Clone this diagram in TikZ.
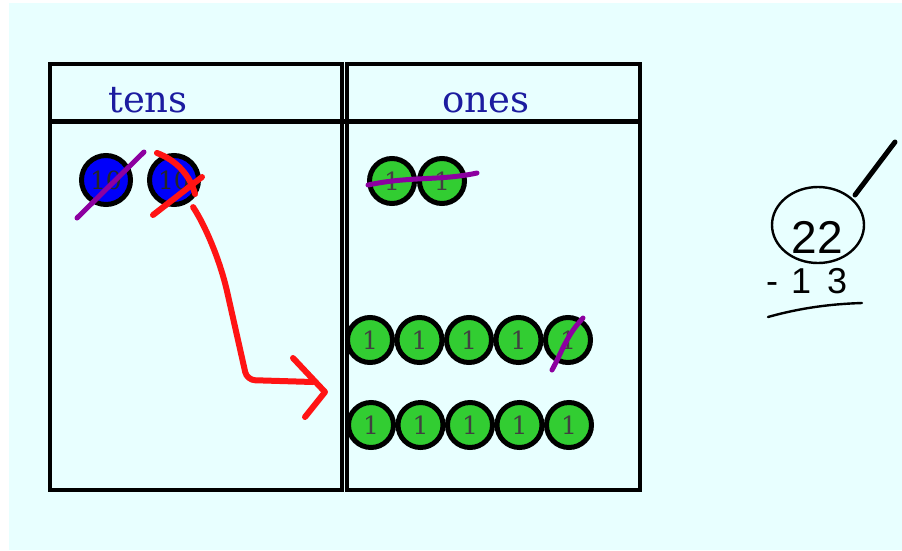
\documentclass[tikz,border=0pt]{standalone}
\usepackage{fontspec}
\setmainfont{DejaVu Serif}
\setsansfont{Liberation Sans}
\usetikzlibrary{positioning,calc}
\definecolor{bgcyan}{RGB}{232,255,255}
\definecolor{headblue}{RGB}{28,28,160}
\definecolor{tenblue}{RGB}{0,0,250}
\definecolor{onegreen}{RGB}{50,205,50}
\definecolor{strikepurple}{RGB}{140,0,160}
\definecolor{markred}{RGB}{255,20,20}

\begin{document}
\begin{tikzpicture}[x=1pt, y=-1pt, font=\rmfamily]
    \tikzstyle{ten}=[circle,draw=black,line width=5pt,fill=tenblue,minimum size=49pt,inner sep=0pt,font=\fontsize{25}{25}\selectfont,text=black!85]
    \tikzstyle{one}=[circle,draw=black,line width=5pt,fill=onegreen,minimum size=45pt,inner sep=0pt,font=\fontsize{25}{25}\selectfont,text=black!75]
    \tikzstyle{head}=[text=headblue,font=\fontsize{37}{37}\selectfont,anchor=base,inner sep=0pt]
    \tikzstyle{strike}=[draw=strikepurple,line width=5pt,line cap=round]
    \tikzstyle{redmark}=[draw=markred,line width=6pt,line cap=round,line join=round]
    \tikzstyle{chalk}=[draw=black,line width=2.4pt,line cap=round]
    \tikzstyle{hand}=[font=\sffamily,inner sep=0pt,anchor=base]

    \useasboundingbox (0,0) rectangle (902,550);
    \fill[white] (0,0) rectangle (902,550);
    \fill[bgcyan] (9,3) rectangle (902,550);

    % place value chart
    \draw[line width=4.5pt] (50,64) rectangle (342,490);
    \draw[line width=4.5pt] (347,64) rectangle (640,490);
    \draw[line width=5pt] (50,121) -- (640,121);
    \node[head] (tens) at (148,112) {tens};
    \node[head] (ones) at (486,112) {ones};

    % tens
    \node[ten] (t1) at (106,180) {10};
    \node[ten, right=14pt of t1] (t2) {10};

    % ones
    \node[one] (o1) at (392,181) {1};
    \node[one, right=0pt of o1] (o2) {1};
    \foreach \i in {1,...,5} {
        \node[one] (a\i) at ({370+49.5*(\i-1)},340) {1};
        \node[one] (b\i) at ({371+49.5*(\i-1)},425) {1};
    }

    % crossing out
    \draw[strike] (77,218) -- (144,152);
    \draw[strike] (368,185) .. controls (410,176) and (440,181) .. (477,173);
    \draw[strike] (552,370) .. controls (562,352) and (566,336) .. (583,318);
    \draw[redmark] (157,153) .. controls (176,160) and (190,175) .. (195,194);
    \draw[redmark] (153,215) -- (202,177);

    % regroup arrow
    \coordinate (tip) at (325,392);
    \draw[redmark, rounded corners=8pt] ($(t2.south east)+(0,8)$) .. controls (205,225) and (220,260) .. (229,300)
        -- (247,380) -- ($(tip)+(-12,-10)$);
    \draw[redmark] ($(tip)+(-32,-34)$) -- (tip) -- ($(tip)+(-20,25)$);

    % working
    \draw[chalk] (818,225) ellipse [x radius=46, y radius=38];
    \draw[draw=black, line width=5pt, line cap=round] (855,195) -- (895,142);
    \node[hand, font=\sffamily\fontsize{46}{46}\selectfont] (top) at (817,253) {22};
    \node[hand, font=\sffamily\fontsize{36}{36}\selectfont, anchor=base west] (sub) at (766,293) {-\hspace{13pt}1\hspace{16pt}3};
    \draw[chalk] (768,317) .. controls (800,308) and (830,304) .. (862,303);
\end{tikzpicture}
\end{document}
